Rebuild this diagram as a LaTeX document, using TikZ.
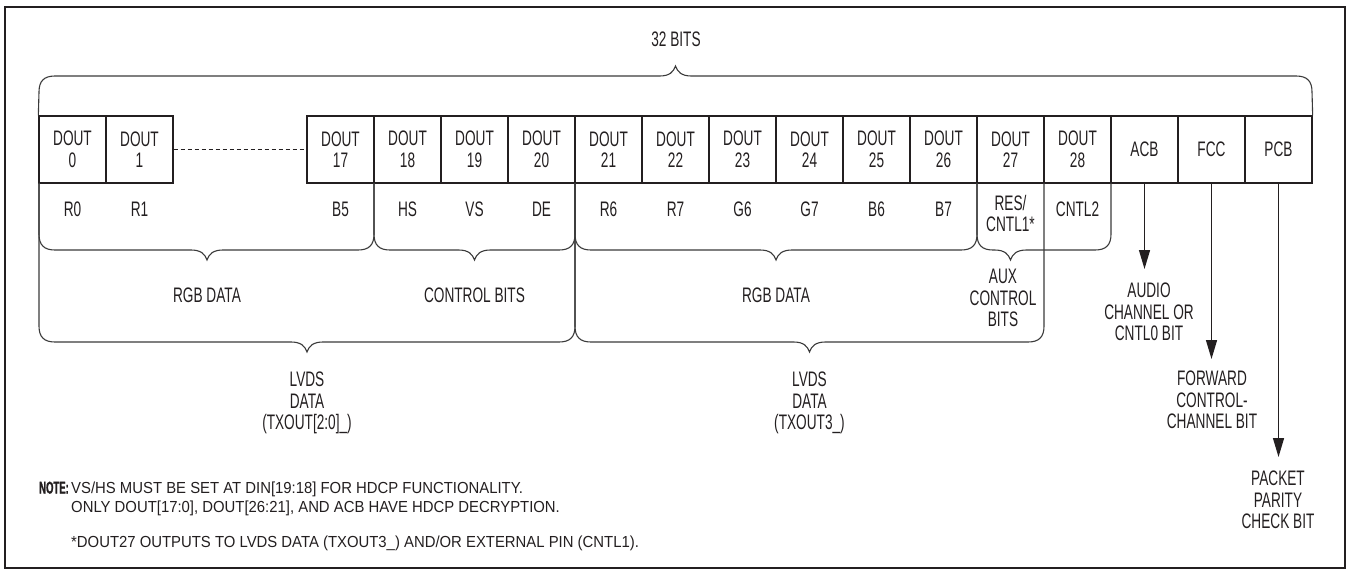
\documentclass[tikz,border=0pt]{standalone}
\usepackage{fontspec}
\usetikzlibrary{arrows.meta}
\newfontfamily\mainf{Liberation Sans}[FakeStretch=0.65]
\newfontfamily\notef{Liberation Sans}[FakeStretch=0.93]
\newfontfamily\noteb{Liberation Sans}[FakeStretch=0.56,FakeBold=1.2]
\definecolor{ink}{HTML}{231F20}
\definecolor{brc}{HTML}{3A3A3A}
\tikzset{
  txt/.style={font=\mainf\fontsize{21}{21.5}\selectfont, inner sep=0pt, align=center, text=ink},
  cell/.style={txt, draw=ink, line width=1.3pt, minimum width=67pt, minimum height=67pt},
  brace/.style={draw=brc, line width=1.1pt},
  arr/.style={draw=ink, line width=1.3pt, -{Triangle[length=19pt,width=11pt]}},
  notetxt/.style={font=\notef\fontsize{16}{19}\selectfont, inner sep=0pt, anchor=base west, text=ink},
}
\newcommand\bdown[5]{%
\draw[brace] (#1,#4) -- (#1,{#5-16}) .. controls (#1,{#5-5}) and ({#1+5},#5) .. ({#1+16},#5)
 -- ({#3-16},#5) .. controls ({#3-6},#5) and ({#3-2},{#5+4}) .. (#3,{#5+10})
 .. controls ({#3+2},{#5+4}) and ({#3+6},#5) .. ({#3+16},#5)
 -- ({#2-16},#5) .. controls ({#2-5},#5) and (#2,{#5-5}) .. (#2,{#5-16}) -- (#2,#4);}
\begin{document}
\begin{tikzpicture}[x=1pt,y=-1pt]
\useasboundingbox (0,0) rectangle (1348,571);
\draw[line width=2pt, draw=ink] (5,7) rectangle (1345,568);

% cells
\node[cell] (c0) at (72.5,149.5) {DOUT\\0};
\node[cell] (c1) at (139.5,149.5) {DOUT\\1};
\foreach \i in {17,...,28} {
  \node[cell] (c\i) at ({340.5+(\i-17)*67},149.5) {DOUT\\\i};
}
\node[cell] (acb) at (1144.5,149.5) {ACB};
\node[cell] (fcc) at (1211.5,149.5) {FCC};
\node[cell] (pcb) at (1278.5,149.5) {PCB};
\draw[ink, line width=1pt, dash pattern=on 4pt off 3pt] (c1.east) -- (c17.west);

% top brace
\node[txt] (bits) at (676,39) {32 BITS};
\draw[brace] (c0.north west) -- (39,92) .. controls (39,81) and (44,76) .. (55,76)
 -- (659.5,76) .. controls (669.5,76) and (673.5,72) .. (675.5,66)
 .. controls (677.5,72) and (681.5,76) .. (691.5,76)
 -- (1296,76) .. controls (1307,76) and (1312,81) .. (1312,92) -- (pcb.north east);

% bit labels
\node[txt] (l0) at (72.5,209) {R0};
\node[txt] (l1) at (139.5,209) {R1};
\node[txt] (l17) at (340.5,209) {B5};
\node[txt] (l18) at (407.5,209) {HS};
\node[txt] (l19) at (474.5,209) {VS};
\node[txt] (l20) at (541.5,209) {DE};
\node[txt] (l21) at (608.5,209) {R6};
\node[txt] (l22) at (675.5,209) {R7};
\node[txt] (l23) at (742.5,209) {G6};
\node[txt] (l24) at (809.5,209) {G7};
\node[txt] (l25) at (876.5,209) {B6};
\node[txt] (l26) at (943.5,209) {B7};
\node[txt] (l27) at (1010.5,213.5) {RES/\\CNTL1*};
\node[txt] (l28) at (1077.5,209) {CNTL2};

% braces below
\bdown{39}{374}{207}{183}{250}
\bdown{374}{575}{474.5}{183}{250}
\bdown{575}{977}{776}{183}{250}
\bdown{977}{1111}{1010.5}{183}{250}
\bdown{39}{575}{307}{183}{342}
\bdown{575}{1044}{809.5}{183}{342}

\node[txt] (g1) at (207,295) {RGB DATA};
\node[txt] (g2) at (474.5,295) {CONTROL BITS};
\node[txt] (g3) at (776,295) {RGB DATA};
\node[txt] (g4) at (1003,298) {AUX\\CONTROL\\BITS};
\node[txt] (v1) at (307,403) {LVDS\\DATA\\(TXOUT[2:0]\_)};
\node[txt] (v2) at (809.5,403) {LVDS\\DATA\\(TXOUT3\_)};

% arrows
\coordinate (ae) at (1144.5,269);
\coordinate (fe) at (1211.5,359);
\coordinate (pe) at (1278.5,457);
\draw[arr] (acb.south) -- (ae);
\draw[arr] (fcc.south) -- (fe);
\draw[arr] (pcb.south) -- (pe);
\node[txt] (at) at (1149,312) {AUDIO\\CHANNEL OR\\CNTL0 BIT};
\node[txt] (ft) at (1212,400) {FORWARD\\CONTROL-\\CHANNEL BIT};
\node[txt] (pt) at (1278,500) {PACKET\\PARITY\\CHECK BIT};

% notes
\node[font=\noteb\bfseries\fontsize{17}{19}\selectfont, inner sep=0pt, anchor=base west, text=ink] (nh) at (39,493.5) {NOTE:};
\node[notetxt] (n1) at (71,493.5) {VS/HS MUST BE SET AT DIN[19:18] FOR HDCP FUNCTIONALITY.};
\node[notetxt] (n2) at (71,512.5) {ONLY DOUT[17:0], DOUT[26:21], AND ACB HAVE HDCP DECRYPTION.};
\node[notetxt] (n3) at (71,547.5) {*DOUT27 OUTPUTS TO LVDS DATA (TXOUT3\_) AND/OR EXTERNAL PIN (CNTL1).};
\end{tikzpicture}
\end{document}
